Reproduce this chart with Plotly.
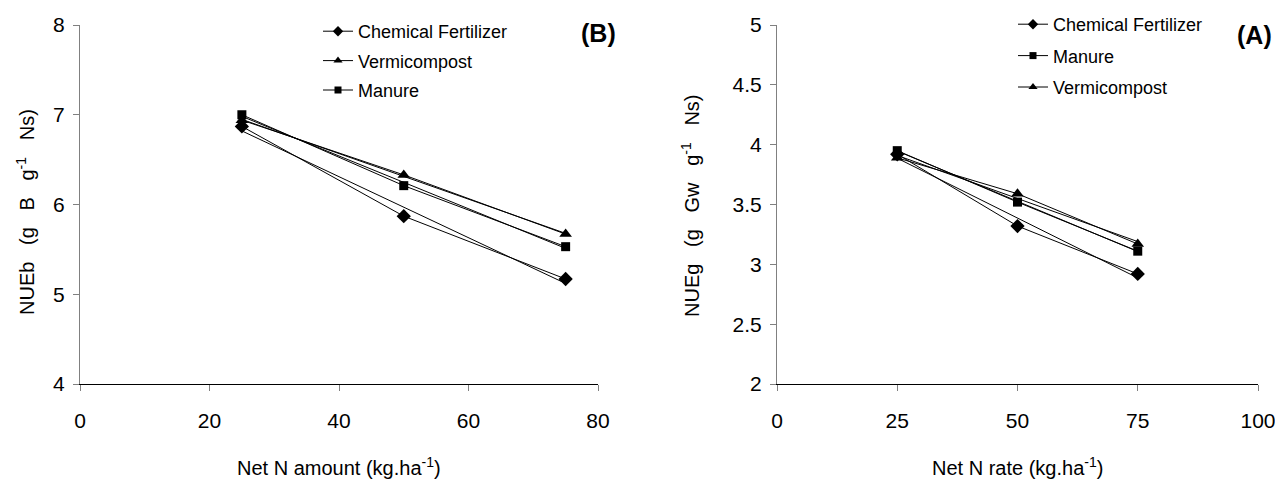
import numpy as np
import plotly.graph_objects as go

# ---- data ----
x_b = [25, 50, 75]
b_chemical = [6.87, 5.87, 5.17]
b_vermicompost = [6.94, 6.33, 5.67]
b_manure = [7.00, 6.21, 5.53]

x_a = [25, 50, 75]
a_chemical = [3.92, 3.32, 2.92]
a_manure = [3.95, 3.52, 3.11]
a_vermicompost = [3.89, 3.59, 3.17]

b_xticks = [0, 20, 40, 60, 80]
b_yticks = [4, 5, 6, 7, 8]
a_xticks = [0, 25, 50, 75, 100]
a_yticks = [2, 2.5, 3, 3.5, 4, 4.5, 5]

W, H = 1275, 479
def px(x):
    return x / W
def py(y):
    return 1 - y / H

FONT = "Liberation Sans Narrow, Arial Narrow, Liberation Sans, Arial, sans-serif"
FONT_REG = "Liberation Sans, Arial, sans-serif"

fig = go.Figure()

def add_series(xs, ys, name, symbol, size, lsize, xa, ya, legend, group):
    fig.add_trace(go.Scatter(
        x=xs, y=ys, name=name, mode="lines+markers",
        line=dict(color="black", width=1),
        marker=dict(symbol=symbol, size=size, color="black"),
        xaxis=xa, yaxis=ya, showlegend=False, legendgroup=group,
    ))
    # legend entry (smaller marker as in the reference legend)
    fig.add_trace(go.Scatter(
        x=[None], y=[None], name=name, mode="lines+markers",
        line=dict(color="black", width=1),
        marker=dict(symbol=symbol, size=lsize, color="black"),
        xaxis=xa, yaxis=ya, legend=legend, legendgroup=group,
    ))
    # linear trend line (least squares fit of the same data)
    k, c = np.polyfit(xs, ys, 1)
    tx = [min(xs), max(xs)]
    fig.add_trace(go.Scatter(
        x=tx, y=[k * t + c for t in tx], mode="lines",
        line=dict(color="black", width=1), showlegend=False,
        hoverinfo="skip", xaxis=xa, yaxis=ya,
    ))

# panel B (left)
add_series(x_b, b_chemical, "Chemical Fertilizer", "diamond", 11, 8, "x", "y", "legend", "b1")
add_series(x_b, b_vermicompost, "Vermicompost", "triangle-up", 11, 8, "x", "y", "legend", "b2")
add_series(x_b, b_manure, "Manure", "square", 9, 7, "x", "y", "legend", "b3")

# panel A (right)
add_series(x_a, a_chemical, "Chemical Fertilizer", "diamond", 11, 8, "x2", "y2", "legend2", "a1")
add_series(x_a, a_manure, "Manure", "square", 9, 7, "x2", "y2", "legend2", "a2")
add_series(x_a, a_vermicompost, "Vermicompost", "triangle-up", 11, 8, "x2", "y2", "legend2", "a3")

axis_common = dict(
    showgrid=False, zeroline=False, showline=True, ticks="outside",
    ticklen=6, tickcolor="#808080", tickwidth=1, automargin=False,
    ticklabeloverflow="allow",
    tickfont=dict(family=FONT, size=21, color="black"),
)

legend_common = dict(
    bgcolor="rgba(0,0,0,0)", borderwidth=0,
    font=dict(family=FONT, size=18, color="black"),
    xanchor="left", yanchor="top",
    traceorder="grouped", itemsizing="trace",
)

fig.update_layout(
    width=W, height=H,
    margin=dict(l=0, r=0, t=0, b=0, autoexpand=False),
    paper_bgcolor="white", plot_bgcolor="white",
    showlegend=True,
    xaxis=dict(domain=[px(80), px(598)], range=[0, 80], tickvals=b_xticks,
               anchor="y", linecolor="black", ticklabelstandoff=12, **axis_common),
    yaxis=dict(domain=[py(384), py(25)], range=[4, 8], tickvals=b_yticks,
               anchor="x", linecolor="#808080", ticklabelstandoff=4, **axis_common),
    xaxis2=dict(domain=[px(777), px(1258)], range=[0, 100], tickvals=a_xticks,
                anchor="y2", linecolor="black", ticklabelstandoff=12, **axis_common),
    yaxis2=dict(domain=[py(384), py(25)], range=[2, 5], tickvals=a_yticks,
                anchor="x2", linecolor="#808080", ticklabelstandoff=4, **axis_common),
    legend=dict(x=px(318), y=py(13), tracegroupgap=3, **legend_common),
    legend2=dict(x=px(1013), y=py(6), tracegroupgap=5, **legend_common),
)

sp = "\u00a0\u00a0\u00a0"
annots = [
    dict(x=px(598), y=py(33), text="<b>(B)</b>", font=dict(family=FONT, size=25)),
    dict(x=px(1254), y=py(35), text="<b>(A)</b>", font=dict(family=FONT, size=25)),
    dict(x=px(339), y=py(466), text="Net N amount (kg.ha<sup>-1</sup>)", font=dict(family=FONT, size=20)),
    dict(x=px(1017), y=py(466), text="Net N rate (kg.ha<sup>-1</sup>)", font=dict(family=FONT, size=20)),
    dict(x=px(25), y=py(212), text=f"NUEb{sp}(g{sp}B{sp}g<sup>-1</sup>{sp}Ns)", textangle=-90,
         font=dict(family=FONT_REG, size=20)),
    dict(x=px(690), y=py(206), text=f"NUEg{sp}(g{sp}Gw{sp}g<sup>-1</sup>{sp}Ns)", textangle=-90,
         font=dict(family=FONT_REG, size=20)),
]
for a in annots:
    a.update(xref="paper", yref="paper", showarrow=False, xanchor="center", yanchor="middle")
    a["font"]["color"] = "black"
fig.update_layout(annotations=annots)

# remove the browser's default page margin so the figure fills the window exactly
fig.write_html("out.html",
               config={"displayModeBar": False},
               post_script="document.body.style.margin='0';document.body.style.overflow='hidden';")
